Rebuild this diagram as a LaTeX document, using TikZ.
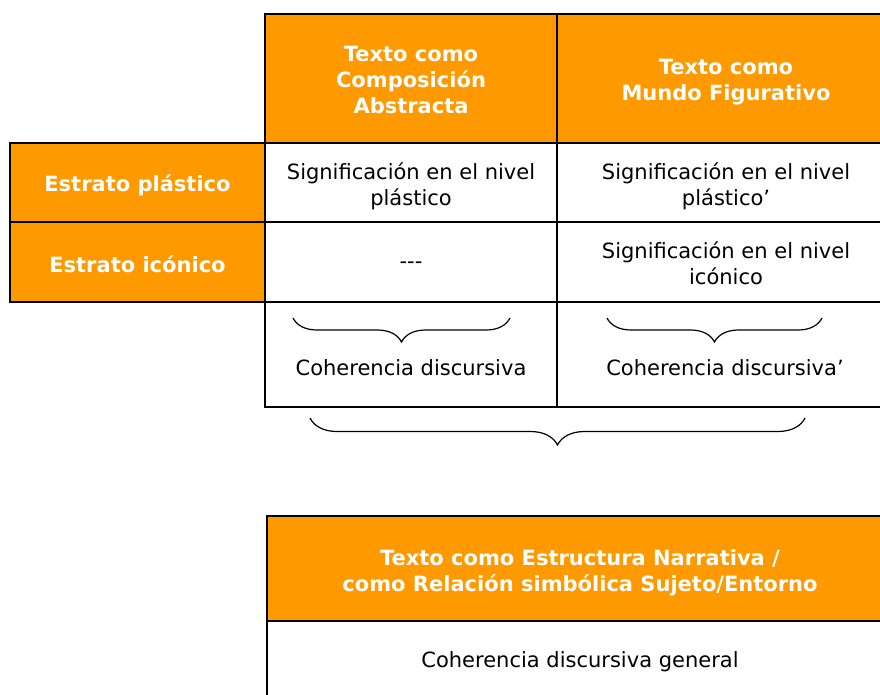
\documentclass[tikz,border=0pt]{standalone}
\usepackage{fontspec}
\setmainfont{DejaVu Sans}
\usetikzlibrary{decorations.pathreplacing}
\definecolor{hdr}{HTML}{FF9900}
\begin{document}
\begin{tikzpicture}[x=1pt,y=-1pt,
  cell/.style={draw=black, line width=2.2pt, inner sep=0pt, outer sep=0pt},
  hcell/.style={cell, fill=hdr},
  txt/.style={inner sep=0pt, align=center, font=\fontsize{21}{26}\selectfont},
  htxt/.style={txt, text=white, font=\fontsize{21}{26}\selectfont\bfseries},
  brc/.style={decorate, decoration={brace, mirror, amplitude=#1}, line width=1.2pt}
]
\path[use as bounding box] (0,0) rectangle (880,694);
% top table header
\node[hcell, minimum width=292pt, minimum height=129pt] (h1) at (411,78.5) {};
\node[hcell, minimum width=338pt, minimum height=129pt] (h2) at (726,78.5) {};
\node[htxt] (h1t) at (411,79.5) {Texto como\\Composición\\Abstracta};
\node[htxt] (h2t) at (726,82.5) {Texto como\\Mundo Figurativo};
% row labels
\node[hcell, minimum width=255pt, minimum height=79pt] (l1) at (137.5,182.5) {};
\node[hcell, minimum width=255pt, minimum height=80pt] (l2) at (137.5,262) {};
\node[htxt] (l1t) at (137.5,185.5) {Estrato plástico};
\node[htxt] (l2t) at (137.5,264) {Estrato icónico};
% body cells
\node[cell, minimum width=292pt, minimum height=79pt] (c11) at (411,182.5) {};
\node[cell, minimum width=338pt, minimum height=79pt] (c12) at (726,182.5) {};
\node[cell, minimum width=292pt, minimum height=80pt] (c21) at (411,262) {};
\node[cell, minimum width=338pt, minimum height=80pt] (c22) at (726,262) {};
\node[cell, minimum width=292pt, minimum height=105pt] (c31) at (411,354.5) {};
\node[cell, minimum width=338pt, minimum height=105pt] (c32) at (726,354.5) {};
\node[txt] (c11t) at (411,186) {Significación en el nivel\\plástico};
\node[txt] (c12t) at (726,186) {Significación en el nivel\\plástico’};
\node[txt] (c21t) at (411,265.5) {{-}{-}{-}};
\node[txt] (c22t) at (726,263) {Significación en el nivel\\icónico};
\node[txt] (t31) at (411,368) {Coherencia discursiva};
\node[txt] (t32) at (725,368) {Coherencia discursiva’};
% small braces
\coordinate (b1a) at (293,318);
\coordinate (b1b) at (510,318);
\coordinate (b2a) at (607,318);
\coordinate (b2b) at (822,318);
\draw[brc=24pt] (b1a) -- (b1b);
\draw[brc=24pt] (b2a) -- (b2b);
% big brace
\coordinate (bga) at (310,418);
\coordinate (bgb) at (805,418);
\draw[brc=27pt] (bga) -- (bgb);
% bottom table
\node[hcell, minimum width=628pt, minimum height=105pt] (bh) at (581,568.5) {};
\node[cell, minimum width=628pt, minimum height=149pt] (bb) at (581,695.5) {};
\node[htxt] (bht) at (580,573) {Texto como Estructura Narrativa /\\como Relación simbólica Sujeto/Entorno};
\node[txt] (bt) at (580,662) {Coherencia discursiva general};
\end{tikzpicture}
\end{document}
